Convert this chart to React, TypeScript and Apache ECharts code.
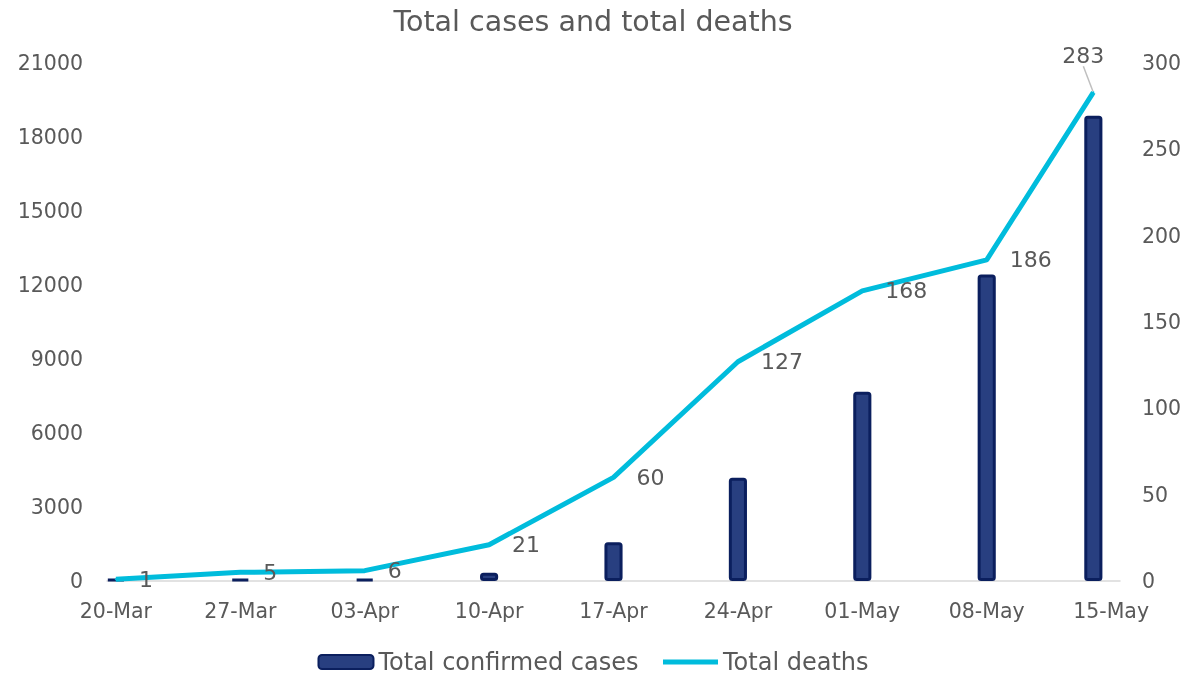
import React, { useEffect, useRef } from "react";
import * as echarts from "echarts";

const titleText = "Total cases and total deaths";
const axisStart = "2020-03-20";
const axisEnd = "2020-05-15";
const dataDates = ["2020-03-20", "2020-03-27", "2020-04-03", "2020-04-10", "2020-04-17", "2020-04-24", "2020-05-01", "2020-05-08", "2020-05-14"];
const totalCases = [40, 60, 70, 330, 1570, 4190, 7670, 12430, 18860];
const totalDeaths = [1, 5, 6, 21, 60, 127, 168, 186, 283];
const leftTicks = { min: 0, max: 21000, interval: 3000 };
const rightTicks = { min: 0, max: 300, interval: 50 };
const months = ["Jan", "Feb", "Mar", "Apr", "May", "Jun", "Jul", "Aug", "Sep", "Oct", "Nov", "Dec"];

const FONT = "'DejaVu Sans', 'Open Sans', sans-serif";
const GREY = "#595959";

function fmt(d: Date) {
  const dd = String(d.getUTCDate()).padStart(2, "0");
  return dd + "-" + months[d.getUTCMonth()];
}

export default function App() {
  const ref = useRef<HTMLDivElement>(null);
  useEffect(() => {
    if (!ref.current) return;
    const chart = echarts.init(ref.current, undefined, { renderer: "svg" });
    const days: string[] = [];
    const keys: string[] = [];
    const start = new Date(axisStart + "T00:00:00Z");
    const end = new Date(axisEnd + "T00:00:00Z");
    for (let t = start.getTime(); t <= end.getTime(); t += 86400000) {
      const d = new Date(t);
      days.push(fmt(d));
      keys.push(d.toISOString().slice(0, 10));
    }
    const caseData: any[] = keys.map(() => null);
    const deathData: any[] = keys.map(() => null);
    dataDates.forEach((k, i) => {
      const idx = keys.indexOf(k);
      caseData[idx] = totalCases[i];
      deathData[idx] = totalDeaths[i];
    });
    const lastIdx = keys.indexOf(dataDates[dataDates.length - 1]);
    deathData[lastIdx] = {
      value: totalDeaths[totalDeaths.length - 1],
      label: { position: "top", distance: 5 },
      labelLine: { show: true, lineStyle: { color: "#bfbfbf", width: 1.5 } },
    };

    chart.setOption({
      animation: false,
      textStyle: { fontFamily: FONT },
      title: {
        text: titleText,
        left: "center",
        top: 2,
        textStyle: { fontFamily: FONT, fontSize: 28.5, fontWeight: "normal", color: GREY },
      },
      legend: {
        bottom: -3,
        left: "center",
        itemWidth: 55,
        itemHeight: 14,
        itemGap: 22,
        textStyle: { fontFamily: FONT, fontSize: 24, color: GREY },
        data: [
          { name: "Total confirmed cases" },
          { name: "Total deaths", itemStyle: { opacity: 0 }, lineStyle: { width: 5, color: "#00bcdc" } },
        ],
      },
      grid: { left: 107, right: 66, top: 63, bottom: 95 },
      xAxis: {
        type: "category",
        data: days,
        boundaryGap: true,
        axisLine: { lineStyle: { color: "#d9d9d9", width: 1.5 } },
        axisTick: { interval: 6, length: 5, lineStyle: { color: "#d9d9d9" } },
        axisLabel: { interval: 6, fontFamily: FONT, fontSize: 20.5, color: GREY, margin: 19 },
        splitLine: { show: false },
      },
      yAxis: [
        {
          type: "value",
          min: leftTicks.min,
          max: leftTicks.max,
          interval: leftTicks.interval,
          axisLine: { show: false },
          axisTick: { show: false },
          splitLine: { show: false },
          axisLabel: { fontFamily: FONT, fontSize: 20.5, color: GREY, margin: 24, formatter: (v: number) => String(v) },
        },
        {
          type: "value",
          min: rightTicks.min,
          max: rightTicks.max,
          interval: rightTicks.interval,
          axisLine: { show: false },
          axisTick: { show: false },
          splitLine: { show: false },
          axisLabel: { fontFamily: FONT, fontSize: 20.5, color: GREY, margin: 22 },
        },
      ],
      series: [
        {
          name: "Total confirmed cases",
          type: "bar",
          yAxisIndex: 0,
          data: caseData,
          barCategoryGap: "-2%",
          barMinHeight: 2,
          itemStyle: { color: "#283f80", borderColor: "#0b1f5e", borderWidth: 3, borderRadius: 2 },
        },
        {
          name: "Total deaths",
          type: "line",
          yAxisIndex: 1,
          data: deathData,
          connectNulls: true,
          symbol: "circle",
          symbolSize: 2,
          itemStyle: { color: "#00bcdc" },
          lineStyle: { color: "#00bcdc", width: 5 },
          label: {
            show: true,
            position: "right",
            distance: 22,
            fontFamily: FONT,
            fontSize: 22,
            color: GREY,
          },
          labelLine: { show: false },
          labelLayout: (p: any) =>
            p.dataIndex === lastIdx ? { dx: -10, dy: -20 } : {},
        },
      ],
    });
    return () => chart.dispose();
  }, []);
  return (
    <div
      ref={ref}
      style={{ position: "fixed", left: 0, top: 0, width: 1186, height: 676 }}
    />
  );
}
